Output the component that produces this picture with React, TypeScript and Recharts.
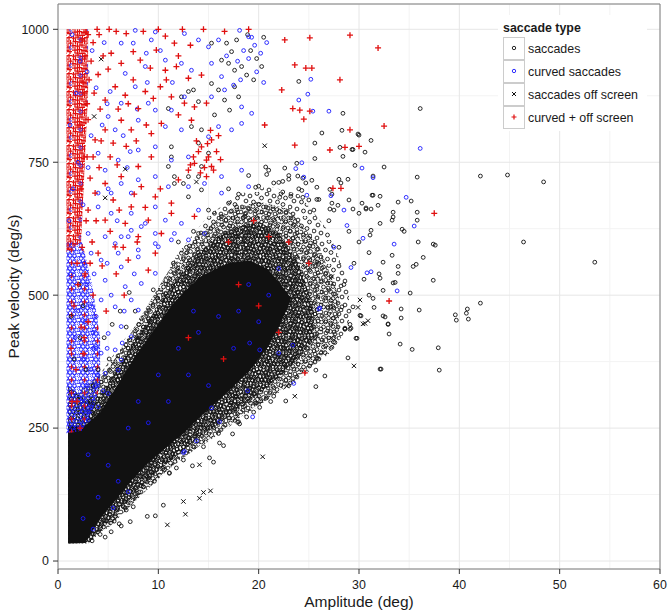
import React from 'react';
import {
  ComposedChart,
  Scatter,
  Area,
  XAxis,
  YAxis,
  CartesianGrid,
  ReferenceArea
} from 'recharts';

const FONT = '"Liberation Sans", Arial, Helvetica, sans-serif';
const BLACK = '#111111';
const BLUE = '#1a1aff';
const RED = '#e01010';

// axes
const xDomain = [0, 60];
const yDomain = [-15, 1047.6];
const xTicks = [0, 10, 20, 30, 40, 50, 60];
const yTicks = [0, 250, 500, 750, 1000];
const xMinor = [5, 15, 25, 35, 45, 55];
const yMinor = [125, 375, 625, 875];

const seriesNames = ['saccades', 'curved saccades', 'saccades off screen', 'curved + off screen'];

// saturated black core of the saccade cloud
const coreX = [1.0, 2.7, 4.2, 5.9, 7.5, 9.2, 11.5, 12.5, 14.2, 16.9, 19.1, 20.8, 22.0, 23.2];
const coreLow = [33, 34, 80, 118, 155, 188, 225, 240, 272, 318, 358, 400, 440, 490];
const coreHigh = [255, 255, 280, 330, 380, 425, 485, 505, 535, 560, 565, 550, 525, 495];

// dense ring of saccades around the core
const denseX = [1, 3, 4, 6, 8, 10, 12, 14, 16, 18, 20, 22, 24, 25.5];
const denseLow = [33, 33, 50, 95, 135, 170, 200, 232, 258, 285, 315, 345, 380, 420];
const denseHigh = [330, 300, 305, 365, 425, 480, 535, 580, 612, 630, 638, 618, 560, 475];

// medium ring
const mediumX = [2, 5, 8, 11, 14, 17, 20, 23, 26, 28];
const mediumLow = [33, 62, 118, 172, 215, 255, 295, 332, 378, 430];
const mediumHigh = [320, 360, 452, 545, 612, 660, 676, 662, 592, 500];

// thinner outer ring of saccades
const sparseX = [3, 6, 9, 12, 15, 18, 21, 24, 27, 29];
const sparseLow = [33, 80, 140, 190, 225, 265, 305, 340, 390, 440];
const sparseHigh = [320, 400, 480, 580, 650, 690, 705, 690, 620, 520];

// dense column of curved saccades at small amplitudes
const blueColX = [0.85, 2.4, 3.4, 4.2];
const blueColLow = [240, 245, 280, 330];
const blueColHigh = [600, 600, 520, 420];

// dense column of curved + off screen at small amplitudes
const redColX = [0.85, 2.3, 3.0];
const redColLow = [580, 600, 880];
const redColHigh = [1000, 1000, 1000];

const saccades: [number, number][] = [
  [36.1, 851], [42.1, 724], [46.4, 600], [42.1, 485], [40.8, 474], [40.7, 466], [40.9, 455], [38.0, 359],
  [37.4, 528], [37.4, 596], [37.6, 594], [35.8, 722], [35.2, 677], [35.8, 656], [35.8, 641], [35.9, 600],
  [36.4, 571], [35.7, 558], [35.4, 554], [35.1, 504], [36.0, 472], [34.2, 474], [34.2, 457], [34.1, 408],
  [35.3, 398], [32.2, 361], [28.4, 842], [28.3, 810], [29.9, 803], [31.2, 791], [29.3, 774], [28.4, 761],
  [30.6, 769], [26.3, 805], [24.0, 902], [32.5, 741], [29.6, 744], [28.0, 718], [28.9, 718], [31.4, 724],
  [31.4, 688], [32.1, 686], [31.9, 669], [30.3, 673], [30.7, 664], [31.2, 662], [33.4, 656], [33.4, 647],
  [33.3, 641], [33.9, 675], [32.1, 635], [31.2, 622], [31.1, 613], [34.3, 624], [34.5, 620], [33.3, 575],
  [32.4, 562], [33.9, 554], [33.9, 541], [33.6, 524], [33.4, 523], [32.1, 532], [32.4, 509], [31.4, 494],
  [32.6, 459], [32.9, 445], [33.0, 427], [31.5, 477], [30.1, 462], [29.7, 419], [29.1, 445], [29.2, 438],
  [28.6, 438], [53.5, 562], [48.4, 713], [44.8, 726], [39.6, 463], [39.7, 453], [37.9, 401],
  [30.0, 801], [25.6, 786], [28.1, 778], [29.4, 774], [25.6, 757], [23.8, 748], [20.7, 741], [20.8, 727],
  [22.6, 739], [23.9, 724], [23.0, 718], [22.4, 714], [24.4, 720], [24.7, 711], [25.3, 716], [25.8, 703],
  [28.2, 711], [27.1, 699], [19.7, 703], [21.5, 711], [22.4, 694], [23.2, 686], [22.1, 684], [24.3, 697],
  [24.4, 684], [25.0, 679], [25.8, 680], [27.3, 690], [27.3, 673], [27.1, 662], [27.9, 669], [29.0, 679],
  [29.4, 662], [30.0, 654], [30.7, 662], [31.3, 688],
  [10.5, 105], [9.7, 85], [11.1, 165], [13.4, 179], [15.5, 186], [15.1, 194], [16.5, 217], [16.1, 222],
  [17.4, 239], [18.8, 271], [24.6, 273], [22.7, 301], [25.7, 328], [26.6, 348], [28.9, 382], [32.1, 361],
  [29.8, 419], [29.1, 436], [28.6, 436], [27.6, 411], [27.3, 402], [26.6, 392], [25.7, 359], [32.9, 446],
  [30.2, 461], [32.4, 461], [28.3, 478], [29.0, 470], [29.4, 478], [27.2, 478], [21.2, 300], [20.8, 307],
  [20.2, 301], [19.8, 297], [20.1, 289], [17.9, 261], [18.1, 258],
  [8.9, 84], [7.2, 74], [6.3, 66], [6.1, 70], [5.3, 55], [4.7, 45], [6.7, 100], [7.5, 102], [10.6, 172],
  [11.8, 175], [11.1, 166], [8.9, 158], [8.5, 140], [7.9, 127], [7.5, 121], [6.8, 96],
  [17.0, 936], [17.6, 923], [18.3, 930], [18.8, 914], [17.3, 958], [16.3, 942], [15.3, 974], [16.8, 974],
  [17.8, 980], [15.3, 898], [16.0, 886], [16.6, 867], [17.6, 892], [18.0, 873], [17.1, 848], [15.6, 839],
  [14.0, 864], [13.3, 817], [14.3, 811], [14.0, 786], [15.0, 767], [11.3, 779], [11.0, 742], [11.6, 710],
  [13.0, 685], [14.3, 698], [15.6, 654], [16.3, 648], [17.0, 673], [17.8, 666], [18.6, 648], [14.0, 616],
  [12.3, 579], [19.2, 960], [19.8, 945], [20.3, 930], [19.5, 905], [20.5, 985], [18.9, 990],
  [12.3, 873], [13.0, 883], [13.5, 886], [11.0, 851], [11.3, 760], [11.6, 723], [12.5, 710], [14.3, 742],
  [14.0, 723], [13.0, 723],
  [8, 420], [9, 455], [10, 490], [11, 520], [12, 545], [13, 560], [14, 580], [7, 400], [6, 360], [9.5, 510],
  [10.5, 500], [11.5, 560], [12.8, 590], [8.5, 440],
  [18, 690], [20, 705], [22, 712], [24, 700], [26, 680], [27.5, 660], [29, 620], [30, 600], [31, 580],
  [29.5, 560], [30.5, 530], [31, 500], [28.5, 520], [32, 540], [27, 640], [25.5, 660], [23, 725], [21, 735],
  [19, 725], [17, 700], [15, 660], [13.5, 620], [12, 600], [26, 560], [28, 590],
  [2.2, 420], [1.6, 380], [2.8, 360], [3.5, 330], [1.3, 460], [2.5, 480], [3.2, 300], [2.1, 520],
  [3.4, 38], [4.2, 50], [5.6, 75], [7.0, 110], [9.6, 150], [12.5, 190], [14.5, 215], [19.5, 280],
  [21.5, 310], [23, 330], [26, 380], [27.5, 420], [16, 240], [18, 262],
  [4.6, 420], [5.4, 445], [6.2, 470], [7.1, 505], [5.1, 380], [4.0, 360], [6.8, 440], [7.7, 470]
];

const curvedSaccades: [number, number][] = [
  [7.7, 998], [9.7, 995], [9.3, 980], [7.5, 974], [6.3, 974], [8.8, 955], [12.6, 992], [14.0, 980],
  [15.0, 967], [16.0, 980], [18.1, 998], [19.0, 986], [10.7, 942], [12.3, 936], [13.3, 923], [15.3, 936],
  [16.3, 911], [8.7, 930], [6.7, 917], [5.2, 883], [7.7, 892], [9.0, 861], [9.7, 848], [11.3, 848],
  [12.6, 873], [15.3, 873], [16.6, 886], [18.3, 854], [19.3, 842], [6.3, 861], [5.0, 836], [8.0, 829],
  [10.7, 817], [12.3, 811], [15.0, 798], [16.0, 817], [17.3, 811], [18.3, 823], [5.7, 811], [4.0, 767],
  [6.0, 754], [8.0, 773], [9.7, 779], [11.3, 754], [13.0, 760], [14.6, 710], [16.3, 723], [18.3, 735],
  [19.0, 704], [4.7, 735], [6.3, 710], [8.0, 717], [9.7, 723], [11.0, 704], [13.0, 704], [4.0, 692],
  [5.3, 692], [7.3, 692], [9.7, 666], [10.7, 641], [12.3, 635], [14.0, 660], [16.3, 692], [5.3, 654],
  [7.3, 654], [4.0, 666], [4.7, 610], [6.3, 610], [8.3, 629], [9.7, 616], [11.3, 604], [13.0, 604],
  [14.6, 616], [4.3, 566], [6.0, 579], [8.0, 585], [10.0, 591], [11.6, 616], [3.0, 616], [3.3, 579],
  [5.7, 597], [7.3, 622], [8.7, 635], [9.7, 597], [8.0, 572], [6.3, 553], [4.7, 528], [6.7, 516],
  [8.3, 522], [9.7, 541], [7.3, 491], [5.7, 478], [4.3, 491], [8.0, 472], [6.3, 441], [5.0, 428],
  [7.3, 422], [5.7, 397], [4.3, 391], [6.3, 378], [4.7, 353], [6.0, 359], [3.7, 328], [5.0, 315],
  [4.0, 290], [3.0, 265],
  [3, 200], [5, 180], [7, 250], [8, 300], [10, 350], [12, 400], [9, 260], [11, 300], [13, 350],
  [14, 430], [16, 460], [17.5, 400], [15, 330], [18, 470], [20, 450], [19, 520], [21, 500], [22, 550],
  [13.5, 470], [6, 150], [4, 120], [2.5, 80], [3.5, 60], [5.5, 100], [7, 130],
  [12.5, 204], [13.8, 226], [19.4, 271], [23.5, 334], [26.1, 476], [19.1, 410], [23.4, 406], [22.0, 391],
  [20.1, 397], [18.9, 320], [16.1, 262], [12.6, 206], [15.3, 288],
  [25.2, 906], [24.9, 878], [24.0, 867], [25.4, 846], [27.0, 846], [30.3, 739], [31.4, 721], [34.7, 684],
  [35.5, 630], [33.5, 596], [33.8, 508], [36.1, 776], [27.2, 687], [28.5, 660], [28.8, 631], [27.5, 590],
  [30.8, 542], [31.2, 544], [30.4, 607], [29.2, 552], [26.0, 474], [24.8, 688], [24.3, 749], [23.7, 738],
  [24.5, 722],
  [18.5, 960], [19.0, 945], [19.6, 970], [20.2, 955], [18.2, 905], [19.8, 920], [17.5, 895], [20.5, 900],
  [16.8, 950], [19.3, 985], [20.8, 975], [17.9, 940],
  [2.6, 560], [2.9, 520], [3.2, 480], [2.7, 450], [3.5, 430], [3.8, 400], [3.3, 360], [2.8, 330],
  [3.9, 350], [2.4, 300], [3.1, 280], [2.2, 250], [1.5, 700], [2.0, 750], [1.2, 820], [1.8, 880],
  [2.2, 940], [1.4, 990], [2.5, 670], [1.1, 640],
  [3.4, 960], [4.6, 975], [2.9, 920], [3.8, 890], [4.9, 860], [3.3, 800], [4.4, 820], [3.0, 740],
  [5.0, 700], [6.9, 740], [7.9, 850], [8.9, 900], [10.2, 960], [11.4, 900], [6.5, 800], [7.2, 770],
  [5.9, 640], [7.0, 610], [3.6, 540], [4.9, 560], [5.3, 500], [6.6, 470], [7.6, 540], [3.8, 460],
  [4.9, 400], [6.4, 410], [3.5, 400], [2.6, 380], [4.5, 320], [3.3, 290], [2.0, 470], [1.3, 540],
  [1.7, 420]
];

const offScreen: [number, number][] = [
  [10.9, 68], [12.7, 88], [12.5, 112], [14.1, 118], [14.5, 129], [15.2, 132], [14.1, 181], [20.4, 196],
  [23.6, 310], [22.8, 329], [29.5, 367], [30.9, 452], [30.4, 446], [29.9, 477], [30.6, 447], [30.1, 491],
  [4.3, 944], [3.6, 836], [6.7, 737], [4.7, 683], [13.8, 713], [20.6, 781], [27.3, 535]
];

const curvedOffScreen: [number, number][] = [
  [5.8, 996], [6.8, 992], [8.5, 996], [10.7, 987], [11.6, 974], [9.8, 961], [7.5, 958], [5.3, 955],
  [6.3, 936], [8.2, 942], [9.2, 927], [10.7, 923], [11.8, 930], [13.0, 908], [14.3, 914], [7.5, 905],
  [5.7, 892], [4.7, 867], [6.7, 876], [8.7, 883], [10.2, 892], [11.3, 873], [12.6, 861], [13.6, 854],
  [14.8, 861], [8.0, 851], [6.3, 829], [4.7, 811], [3.7, 792], [5.5, 786], [7.3, 811], [9.3, 804],
  [10.3, 823], [12.0, 839], [13.3, 829], [14.3, 779], [15.3, 792], [14.8, 754], [13.6, 748], [13.0, 735],
  [12.0, 717], [11.3, 673], [9.3, 760], [8.0, 742], [6.3, 723], [4.7, 710], [3.7, 692], [5.5, 679],
  [8.3, 704], [9.7, 685], [7.3, 666], [4.7, 641], [6.7, 635], [9.0, 641], [10.3, 616], [8.0, 610],
  [5.7, 591], [4.0, 579], [7.0, 566], [9.7, 579], [9.0, 547], [11.3, 654], [13.6, 648], [14.8, 723],
  [15.3, 742], [19.0, 1000], [16.6, 996],
  [13.5, 760], [14.0, 770], [14.6, 740], [15.0, 760], [15.8, 770], [13.2, 745], [14.2, 730], [15.5, 735],
  [16.2, 755], [14.9, 785], [13.8, 790], [15.2, 810], [16.0, 800],
  [22.6, 980], [25.1, 984], [29.1, 989], [31.9, 965], [23.6, 933], [28.1, 905], [24.1, 848], [22.3, 886],
  [20.6, 820], [23.6, 782], [29.1, 811], [27.1, 773], [24.7, 927], [25.3, 927], [23.4, 851], [25.1, 846],
  [24.5, 831], [32.5, 818], [30.0, 780], [28.6, 778], [27.4, 701], [28.2, 701], [37.5, 654], [33.0, 489],
  [24.6, 354],
  [20, 480], [22, 430], [18, 520], [17, 600], [25, 560], [23, 600], [19.5, 640], [21, 610], [16.5, 380],
  [13, 420],
  [2.4, 980], [2.7, 950], [3.0, 990], [2.5, 900], [2.9, 860], [2.2, 820], [2.6, 760], [2.3, 700],
  [2.8, 640], [2.4, 590], [3.2, 560], [2.0, 520], [1.6, 480], [2.3, 440], [1.3, 400], [1.8, 360],
  [2.6, 420], [1.4, 300],
  [2.8, 995], [3.5, 975], [4.1, 990], [3.3, 940], [4.0, 915], [3.1, 905], [4.5, 950], [5.0, 925],
  [3.6, 880], [4.2, 850], [3.0, 830], [3.5, 760], [4.3, 790], [3.2, 720], [4.1, 740], [5.2, 760],
  [5.9, 745], [6.8, 780], [7.8, 790], [8.8, 820], [6.0, 850], [7.0, 860], [9.5, 870], [10.8, 905],
  [12.0, 950], [13.2, 970], [3.0, 660], [3.8, 640], [5.2, 620], [6.1, 660], [7.6, 690], [8.7, 665],
  [10.2, 700], [3.4, 600], [4.4, 555], [5.8, 540], [6.5, 590], [7.9, 600], [2.9, 760], [2.6, 880],
  [3.9, 1000], [5.1, 1000], [10.0, 1000], [12.4, 1000], [14.5, 1000], [2.7, 540], [3.5, 500], [1.9, 560],
  [4.8, 470], [3.0, 450], [6.6, 500], [2.5, 390], [1.9, 300], [2.2, 250]
];

const toBand = (xs: number[], lo: number[], hi: number[]) =>
  xs.map((x, i) => ({ x, band: [lo[i], hi[i]] }));
const toPoints = (pts: [number, number][]) => pts.map(([x, y]) => ({ x, y }));

const ring = (color: string) => (p: any) => (
  <circle cx={p.cx} cy={p.cy} r={1.9} fill="none" stroke={color} strokeWidth={0.9} />
);
const plus = (p: any) => (
  <path d={`M${p.cx - 3},${p.cy}h6M${p.cx},${p.cy - 3}v6`} stroke={RED} strokeWidth={1.3} fill="none" />
);
const cross = (p: any) => (
  <path
    d={`M${p.cx - 2.2},${p.cy - 2.2}l4.4,4.4M${p.cx - 2.2},${p.cy + 2.2}l4.4,-4.4`}
    stroke={BLACK}
    strokeWidth={1}
    fill="none"
  />
);

// texture tiles for the over-plotted regions
const denseTile = [
  [1, 1], [4.5, 0.5], [7.5, 2], [11, 1], [14, 2.5], [2.5, 4], [6, 5], [9.5, 4.5], [12.5, 5.5],
  [15.5, 6], [0.5, 7.5], [4, 8.5], [7.5, 8], [11, 9], [14, 9.5], [2, 11.5], [5.5, 12], [9, 11.5],
  [12.5, 12.5], [15.5, 13], [1, 15], [4, 15.5], [7.5, 15], [11, 15.5], [14, 15.5]
];
const mediumTile = [
  [1.5, 2], [6, 1], [10.5, 3], [15, 1.5], [18.5, 4.5], [3.5, 7], [8, 8], [13, 6.5], [17, 9.5],
  [1, 12], [6, 13], [10.5, 11.5], [15, 14], [19, 15.5], [3.5, 17.5], [8.5, 18], [13, 18.5], [17.5, 19]
];
const sparseTile = [
  [3, 2], [10, 4], [17, 1.5], [21.5, 6], [6, 9], [13.5, 10], [19, 12.5], [2, 15], [9, 17], [15.5, 19],
  [22, 20], [5, 22]
];
const blueTile = [
  [1.5, 1.5], [5, 1], [9, 2], [11.5, 5], [3, 4.5], [7, 5.5], [1, 8], [5, 8.5], [9.5, 9], [3, 11.5],
  [7.5, 11.5], [11.5, 11.5]
];
const redTile = [
  [1.5, 2], [6, 1], [10.5, 2.5], [15, 1.5], [3.5, 5.5], [8, 6], [12.5, 5], [16.5, 7], [1, 9.5],
  [5.5, 10], [10, 9], [14, 11], [3, 14], [7.5, 13.5], [12, 14.5], [16, 15.5], [5.5, 17], [10, 17.5]
];

const Patterns = () => (
  <svg width={0} height={0} style={{ position: 'absolute' }}>
    <defs>
      <pattern id="pDense" width={16} height={16} patternUnits="userSpaceOnUse">
        {denseTile.map(([cx, cy], i) => (
          <circle key={i} cx={cx} cy={cy} r={1.9} fill="none" stroke={BLACK} strokeWidth={0.9} />
        ))}
      </pattern>
      <pattern id="pMedium" width={20} height={20} patternUnits="userSpaceOnUse">
        {mediumTile.map(([cx, cy], i) => (
          <circle key={i} cx={cx} cy={cy} r={1.9} fill="none" stroke={BLACK} strokeWidth={0.9} />
        ))}
      </pattern>
      <pattern id="pSparse" width={24} height={24} patternUnits="userSpaceOnUse">
        {sparseTile.map(([cx, cy], i) => (
          <circle key={i} cx={cx} cy={cy} r={1.9} fill="none" stroke={BLACK} strokeWidth={0.9} />
        ))}
      </pattern>
      <pattern id="pBlue" width={13} height={13} patternUnits="userSpaceOnUse">
        {blueTile.map(([cx, cy], i) => (
          <circle key={i} cx={cx} cy={cy} r={1.8} fill="none" stroke={BLUE} strokeWidth={0.9} />
        ))}
        <path d="M4,3h5M6.5,0.5v5" stroke={RED} strokeWidth={1.1} />
      </pattern>
      <pattern id="pRed" width={18} height={18} patternUnits="userSpaceOnUse">
        {redTile.map(([cx, cy], i) => (
          <path key={i} d={`M${cx - 3},${cy}h6M${cx},${cy - 3}v6`} stroke={RED} strokeWidth={1.25} />
        ))}
        <circle cx={17} cy={11.5} r={1.7} fill="none" stroke={BLUE} strokeWidth={0.8} />
        <circle cx={8.5} cy={3.5} r={1.7} fill="none" stroke={BLUE} strokeWidth={0.8} />
      </pattern>
    </defs>
  </svg>
);

const textStyle = { fontFamily: FONT, fontSize: 12.4, fill: '#1a1a1a' };

const legendIcons = [
  <circle cx={11} cy={11} r={1.7} fill="none" stroke={BLACK} strokeWidth={0.9} />,
  <circle cx={11} cy={11} r={1.7} fill="none" stroke={BLUE} strokeWidth={0.9} />,
  <path d="M9,9l4,4M9,13l4,-4" stroke={BLACK} strokeWidth={1} />,
  <path d="M8.5,11h5M11,8.5v5" stroke={RED} strokeWidth={1.2} />
];

const LegendBox = () => (
  <div
    style={{
      position: 'absolute',
      left: 498,
      top: 15,
      width: 149,
      height: 116,
      background: '#fff',
      fontFamily: FONT,
      fontSize: 12.4,
      color: '#1a1a1a'
    }}
  >
    <div style={{ position: 'absolute', left: 5, top: 6, fontWeight: 'bold' }}>saccade type</div>
    {seriesNames.map((name, i) => (
      <div key={name} style={{ position: 'absolute', left: 5, top: 22 + i * 23, height: 23, display: 'flex', alignItems: 'center' }}>
        <svg width={22} height={23} style={{ display: 'block' }}>
          <rect x={0.5} y={0.5} width={21} height={22} fill="#fff" stroke="#cccccc" />
          {legendIcons[i]}
        </svg>
        <span style={{ marginLeft: 3, whiteSpace: 'nowrap' }}>{name}</span>
      </div>
    ))}
  </div>
);

// minor grid positions from the plot offset and the axis domains
const minorX = ({ offset }: any) =>
  xMinor.map(v => offset.left + ((v - xDomain[0]) / (xDomain[1] - xDomain[0])) * offset.width);
const minorY = ({ offset }: any) =>
  yMinor.map(v => offset.top + ((yDomain[1] - v) / (yDomain[1] - yDomain[0])) * offset.height);

const bandArea = (key: string, xs: number[], lo: number[], hi: number[], fill: string) => (
  <Area
    key={key}
    data={toBand(xs, lo, hi)}
    dataKey="band"
    type="linear"
    stroke="none"
    fill={fill}
    fillOpacity={1}
    isAnimationActive={false}
    dot={false}
    activeDot={false}
  />
);

export default function App() {
  return (
    <div style={{ position: 'absolute', left: 0, top: 0, width: 671, height: 615, background: '#fff' }}>
      <Patterns />
      <ComposedChart width={671} height={615} margin={{ top: 4, right: 11, bottom: 0, left: 0 }}>
        <CartesianGrid
          stroke="#f3f3f3"
          verticalCoordinatesGenerator={minorX}
          horizontalCoordinatesGenerator={minorY}
        />
        <CartesianGrid stroke="#e6e6e6" />
        <XAxis
          type="number"
          dataKey="x"
          domain={xDomain}
          ticks={xTicks}
          allowDataOverflow
          height={46}
          tickSize={5}
          tickMargin={6}
          axisLine={false}
          tickLine={{ stroke: '#333' }}
          tick={textStyle}
          label={(props: any) => {
            const vb = props.viewBox;
            return (
              <text x={vb.x + vb.width / 2} y={vb.y + 38} textAnchor="middle" style={{ fontFamily: FONT, fontSize: 15.5, fill: '#1a1a1a' }}>
                Amplitude (deg)
              </text>
            );
          }}
        />
        <YAxis
          type="number"
          dataKey="y"
          domain={yDomain}
          ticks={yTicks}
          allowDataOverflow
          width={58}
          tickSize={5}
          tickMargin={4}
          axisLine={false}
          tickLine={{ stroke: '#333' }}
          tick={textStyle}
          label={(props: any) => {
            const vb = props.viewBox;
            const cx = vb.x + 13;
            const cy = vb.y + vb.height / 2;
            return (
              <text
                x={cx}
                y={cy}
                transform={`rotate(-90 ${cx} ${cy})`}
                textAnchor="middle"
                dominantBaseline="central"
                style={{ fontFamily: FONT, fontSize: 15.5, fill: '#1a1a1a' }}
              >
                Peak velocity (deg/s)
              </text>
            );
          }}
        />
        {bandArea('sparse', sparseX, sparseLow, sparseHigh, 'url(#pSparse)')}
        {bandArea('medium', mediumX, mediumLow, mediumHigh, 'url(#pMedium)')}
        {bandArea('dense', denseX, denseLow, denseHigh, 'url(#pDense)')}
        {bandArea('core', coreX, coreLow, coreHigh, BLACK)}
        {bandArea('blueCol', blueColX, blueColLow, blueColHigh, 'url(#pBlue)')}
        {bandArea('redCol', redColX, redColLow, redColHigh, 'url(#pRed)')}
        <Scatter name={seriesNames[0]} data={toPoints(saccades)} dataKey="y" shape={ring(BLACK)} isAnimationActive={false} />
        <Scatter name={seriesNames[1]} data={toPoints(curvedSaccades)} dataKey="y" shape={ring(BLUE)} isAnimationActive={false} />
        <Scatter name={seriesNames[2]} data={toPoints(offScreen)} dataKey="y" shape={cross} isAnimationActive={false} />
        <Scatter name={seriesNames[3]} data={toPoints(curvedOffScreen)} dataKey="y" shape={plus} isAnimationActive={false} />
        <ReferenceArea x1={0} x2={60} y1={yDomain[0]} y2={yDomain[1]} fill="none" stroke="#7f7f7f" strokeWidth={1} ifOverflow="visible" />
      </ComposedChart>
      <LegendBox />
    </div>
  );
}
